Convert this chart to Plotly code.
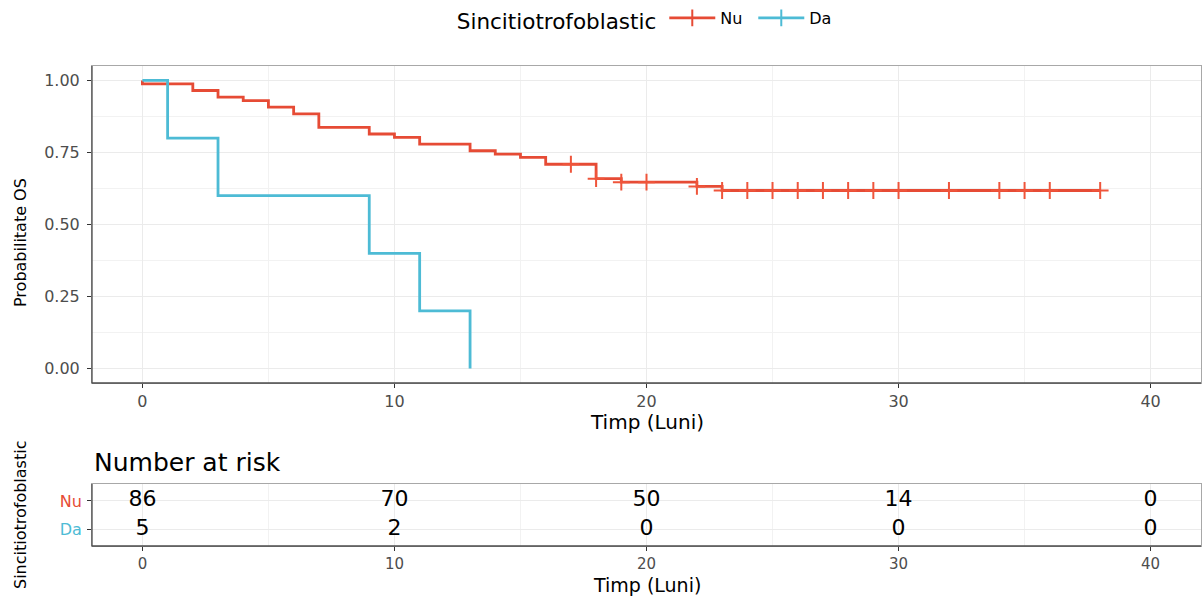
import plotly.graph_objects as go

# ---------------- data ----------------
group_labels = ["Nu", "Da"]
group_colors = ["#E64B35", "#4DBBD5"]

nu_time = [0, 0, 2, 3, 4, 5, 6, 7, 9, 10, 11, 13, 14, 15, 16, 18, 19, 22, 23, 38]
nu_surv = [1.0, 0.988, 0.965, 0.942, 0.930, 0.907, 0.884, 0.837, 0.814, 0.802,
           0.779, 0.756, 0.744, 0.733, 0.709, 0.659, 0.647, 0.632, 0.618, 0.618]
nu_cens_time = [17, 18, 19, 20, 22, 23, 24, 25, 26, 27, 28, 29, 30, 32, 34, 35, 36, 38]
nu_cens_surv = [0.709, 0.659, 0.647, 0.647, 0.632, 0.618, 0.618, 0.618, 0.618, 0.618,
                0.618, 0.618, 0.618, 0.618, 0.618, 0.618, 0.618, 0.618]

da_time = [0, 1, 3, 9, 11, 13]
da_surv = [1.0, 0.8, 0.6, 0.4, 0.2, 0.0]

risk_times = [0, 10, 20, 30, 40]
risk_nu = [86, 70, 50, 14, 0]
risk_da = [5, 2, 0, 0, 0]

x_ticks = [0, 10, 20, 30, 40]
y_ticks = [0.0, 0.25, 0.5, 0.75, 1.0]

# ---------------- layout constants ----------------
W, H = 1203, 597
FONT = "DejaVu Sans"
px_x = lambda p: p / W
px_y = lambda p: 1 - p / H

x_dom = [px_x(92), px_x(1201)]
main_y_dom = [px_y(383), px_y(66)]
tab_y_dom = [px_y(546), px_y(484)]

TICK_COL = "#4D4D4D"
GRID = "#EBEBEB"
MINOR = "#F2F2F2"

fig = go.Figure()

# survival curves
fig.add_trace(go.Scatter(x=nu_time, y=nu_surv, mode="lines", line=dict(color=group_colors[0], width=2.8, shape="hv"),
                         showlegend=False, xaxis="x", yaxis="y"))
fig.add_trace(go.Scatter(x=nu_cens_time, y=nu_cens_surv, mode="markers",
                         marker=dict(symbol="cross-thin-open", size=12, line=dict(color=group_colors[0], width=2)),
                         showlegend=False, xaxis="x", yaxis="y"))
fig.add_trace(go.Scatter(x=da_time, y=da_surv, mode="lines", line=dict(color=group_colors[1], width=2.8, shape="hv"),
                         showlegend=False, xaxis="x", yaxis="y"))

# legend entries
for lab, col in zip(group_labels, group_colors):
    fig.add_trace(go.Scatter(x=[None], y=[None], mode="lines+markers", name=lab,
                             line=dict(color=col, width=2.8),
                             marker=dict(symbol="cross-thin-open", size=12, line=dict(color=col, width=2)),
                             xaxis="x", yaxis="y"))

# risk table
fig.add_trace(go.Scatter(x=risk_times, y=[2] * len(risk_times), mode="text", text=[str(v) for v in risk_nu],
                         textfont=dict(family=FONT, size=22, color="black"), showlegend=False,
                         xaxis="x2", yaxis="y2", cliponaxis=False))
fig.add_trace(go.Scatter(x=risk_times, y=[1] * len(risk_times), mode="text", text=[str(v) for v in risk_da],
                         textfont=dict(family=FONT, size=22, color="black"), showlegend=False,
                         xaxis="x2", yaxis="y2", cliponaxis=False))

axis_common = dict(showline=True, mirror=True, linecolor="#A8A8A8", linewidth=1,
                   ticks="outside", ticklen=4, tickcolor="#333333", tickwidth=1,
                   showgrid=True, gridcolor=GRID, gridwidth=1, zeroline=False, automargin=False)

fig.update_layout(
    width=W, height=H,
    margin=dict(l=0, r=0, t=0, b=0),
    paper_bgcolor="white", plot_bgcolor="white",
    font=dict(family=FONT, color="black"),
    xaxis=dict(domain=x_dom, range=[-2, 42], tickvals=x_ticks, anchor="y",
               tickfont=dict(family=FONT, size=16, color=TICK_COL),
               minor=dict(dtick=5, tick0=0, showgrid=True, gridcolor=MINOR, ticklen=0), **axis_common),
    yaxis=dict(domain=main_y_dom, range=[-0.05, 1.05], tickvals=y_ticks, tickformat=".2f", anchor="x",
               tickfont=dict(family=FONT, size=16, color=TICK_COL), ticklabelstandoff=4,
               minor=dict(dtick=0.125, tick0=0, showgrid=True, gridcolor=MINOR, ticklen=0), **axis_common),
    xaxis2=dict(domain=x_dom, range=[-2, 42], tickvals=x_ticks, anchor="y2",
                tickfont=dict(family=FONT, size=15, color=TICK_COL),
                minor=dict(dtick=5, tick0=0, showgrid=True, gridcolor=MINOR, ticklen=0), **axis_common),
    yaxis2=dict(domain=tab_y_dom, range=[0.4, 2.6], tickvals=[2, 1], anchor="x2",
                tickfont=dict(family=FONT, size=16, color=TICK_COL),
                ticktext=["<span style='color:%s'>Nu</span>" % group_colors[0],
                          "<span style='color:%s'>Da</span>" % group_colors[1]],
                ticklabelstandoff=2, **axis_common),
    legend=dict(orientation="h", x=0.5393, xanchor="center", y=px_y(20), yanchor="middle",
                entrywidth=28, entrywidthmode="pixels", itemwidth=46,
                title=dict(text="Sincitiotrofoblastic", font=dict(family=FONT, size=21.5, color="black")),
                font=dict(family=FONT, size=16, color="black"), bgcolor="rgba(0,0,0,0)"),
)

# darker left/bottom axis lines
shapes = []
for xr, yr in [("x domain", "y domain"), ("x2 domain", "y2 domain")]:
    shapes.append(dict(type="line", xref=xr, yref=yr, x0=0, x1=0, y0=0, y1=1, line=dict(color="#4D4D4D", width=1.3), layer="above"))
    shapes.append(dict(type="line", xref=xr, yref=yr, x0=0, x1=1, y0=0, y1=0, line=dict(color="#4D4D4D", width=1.3), layer="above"))
fig.update_layout(shapes=shapes)

annotations = [
    dict(text="Timp (Luni)", xref="paper", yref="paper", x=(x_dom[0] + x_dom[1]) / 2, y=px_y(422),
         xanchor="center", yanchor="middle", showarrow=False, font=dict(family=FONT, size=20, color="black")),
    dict(text="Timp (Luni)", xref="paper", yref="paper", x=(x_dom[0] + x_dom[1]) / 2, y=px_y(585),
         xanchor="center", yanchor="middle", showarrow=False, font=dict(family=FONT, size=19, color="black")),
    dict(text="Probabilitate OS", xref="paper", yref="paper", x=px_x(20), y=px_y(243),
         xanchor="center", yanchor="middle", textangle=-90, showarrow=False, font=dict(family=FONT, size=16, color="black")),
    dict(text="Sincitiotrofoblastic", xref="paper", yref="paper", x=px_x(20), y=(tab_y_dom[0] + tab_y_dom[1]) / 2,
         xanchor="center", yanchor="middle", textangle=-90, showarrow=False, font=dict(family=FONT, size=16, color="black")),
    dict(text="Number at risk", xref="paper", yref="paper", x=px_x(92), y=px_y(462),
         xanchor="left", yanchor="middle", showarrow=False, font=dict(family=FONT, size=25, color="black")),
]
fig.update_layout(annotations=annotations)

fig.write_html("out.html", config={"displayModeBar": False},
               post_script="document.body.style.margin='0px';document.body.style.padding='0px';")
